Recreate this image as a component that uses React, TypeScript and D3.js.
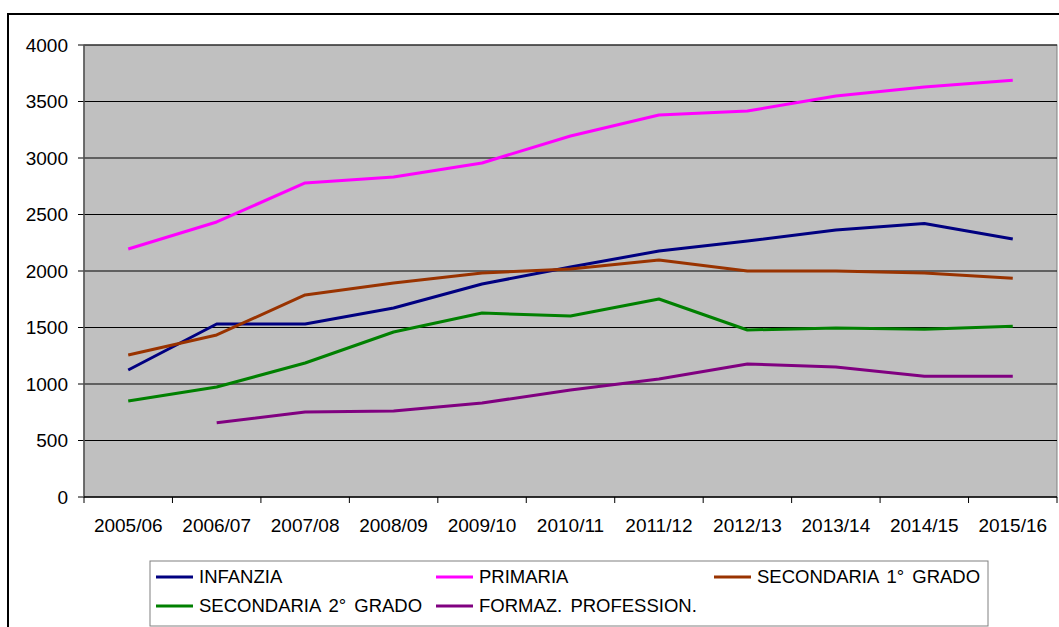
import React from "react";
import * as d3 from "d3";

const categories = ["2005/06","2006/07","2007/08","2008/09","2009/10","2010/11","2011/12","2012/13","2013/14","2014/15","2015/16"];
const infanzia = [1124,1531,1531,1673,1885,2035,2177,2265,2363,2420,2283];
const primaria = [2195,2434,2779,2832,2956,3195,3381,3416,3549,3628,3688];
const secondaria1 = [1257,1434,1788,1894,1982,2018,2097,2000,2000,1982,1935];
const secondaria2 = [850,973,1186,1460,1628,1602,1752,1478,1496,1484,1510];
const formaz: (number|null)[] = [null,658,752,761,832,947,1044,1177,1150,1068,1068];
const yTicks = [0,500,1000,1500,2000,2500,3000,3500,4000];

const series = [
  { name: "INFANZIA", values: infanzia, color: "#000080" },
  { name: "PRIMARIA", values: primaria, color: "#FF00FF" },
  { name: "SECONDARIA 1° GRADO", values: secondaria1, color: "#993300" },
  { name: "SECONDARIA 2° GRADO", values: secondaria2, color: "#008000" },
  { name: "FORMAZ. PROFESSION.", values: formaz, color: "#800080" },
];

const W = 1059, H = 627;
const left = 84, right = 1057, top = 45, bottom = 497;
const font = "'Liberation Sans', Arial, sans-serif";

export default function App() {
  const x = d3.scaleBand<string>().domain(categories).range([left, right]);
  const y = d3.scaleLinear().domain([0, 4000]).range([bottom, top]);
  const line = d3.line<number | null>()
    .defined((d) => d !== null)
    .x((_, i) => (x(categories[i]) as number) + x.bandwidth() / 2)
    .y((d) => y(d as number));
  const tickXs = [...categories.map((c) => x(c) as number), right];

  const legendPos = [
    { lx: 156, ly: 577 },
    { lx: 436, ly: 577 },
    { lx: 714, ly: 577 },
    { lx: 156, ly: 606 },
    { lx: 436, ly: 606 },
  ];

  return (
    <svg width={W} height={H} style={{ position: "absolute", left: 0, top: 0 }} fontFamily={font}>
      <rect x={0} y={0} width={W} height={H} fill="#fff" />
      <rect x={8} y={14} width={1100} height={700} fill="none" stroke="#000" strokeWidth={2} />
      <rect x={left} y={top} width={right - left} height={bottom - top} fill="#C0C0C0" stroke="#808080" strokeWidth={1} />
      {yTicks.map((t) => (
        <g key={t}>
          {t > 0 && <line x1={left} x2={right} y1={y(t)} y2={y(t)} stroke="#000" strokeWidth={1} />}
          <line x1={left - 6} x2={left} y1={y(t)} y2={y(t)} stroke="#000" strokeWidth={1} />
          <text x={68} y={y(t)} dy="0.35em" textAnchor="end" fontSize={19} fill="#000">{t}</text>
        </g>
      ))}
      <line x1={left} x2={left} y1={top} y2={bottom} stroke="#555" strokeWidth={1.5} />
      <line x1={left} x2={right} y1={bottom} y2={bottom} stroke="#000" strokeWidth={1.5} />
      {tickXs.map((tx, i) => (
        <line key={i} x1={tx} x2={tx} y1={bottom} y2={bottom + 6} stroke="#000" strokeWidth={1} />
      ))}
      {categories.map((c) => (
        <text key={c} x={(x(c) as number) + x.bandwidth() / 2} y={532} textAnchor="middle" fontSize={19} fill="#000">{c}</text>
      ))}
      {series.map((s) => (
        <path key={s.name} d={line(s.values as (number | null)[]) || ""} fill="none" stroke={s.color} strokeWidth={3} strokeLinejoin="round" />
      ))}
      <rect x={150} y={561} width={838} height={65} fill="#fff" stroke="#808080" strokeWidth={1} />
      {series.map((s, i) => (
        <g key={s.name}>
          <line x1={legendPos[i].lx} x2={legendPos[i].lx + 37} y1={legendPos[i].ly} y2={legendPos[i].ly} stroke={s.color} strokeWidth={3} />
          <text x={legendPos[i].lx + 43} y={legendPos[i].ly} dy="0.35em" fontSize={18.5} wordSpacing={3} fill="#000">{s.name}</text>
        </g>
      ))}
    </svg>
  );
}
